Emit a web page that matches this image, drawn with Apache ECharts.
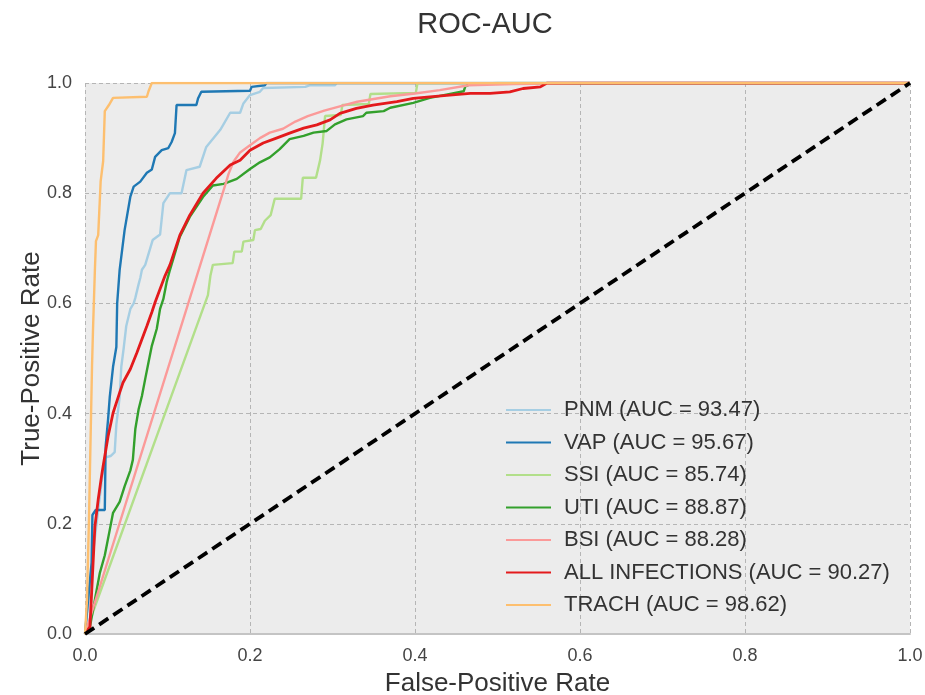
<!DOCTYPE html>
<html>
<head>
<meta charset="utf-8">
<script src="https://cdn.jsdelivr.net/npm/echarts@6/dist/echarts.min.js"></script>
<style>
  html, body { margin: 0; padding: 0; background: #fff; }
  #main { width: 925px; height: 695px; }
</style>
</head>
<body>
<div id="main"></div>
<script>
// ROC points [fpr, tpr]
const pnm = [[0, 0], [0.004, 0.06], [0.01, 0.15], [0.018, 0.25], [0.024, 0.32], [0.031, 0.323], [0.036, 0.33],
  [0.038, 0.38], [0.042, 0.43], [0.044, 0.485], [0.047, 0.52], [0.05, 0.559], [0.055, 0.59], [0.059, 0.6],
  [0.061, 0.61], [0.065, 0.635], [0.067, 0.646], [0.069, 0.661], [0.073, 0.67], [0.082, 0.715], [0.091, 0.725],
  [0.095, 0.782], [0.103, 0.8], [0.117, 0.8], [0.123, 0.842], [0.139, 0.848], [0.147, 0.884], [0.164, 0.915],
  [0.176, 0.946], [0.188, 0.946], [0.192, 0.963], [0.2, 0.978], [0.212, 0.984], [0.216, 0.991], [0.267, 0.993],
  [0.273, 0.996], [0.303, 0.996], [0.305, 1], [1, 1]]
const vap = [[0, 0], [0.003, 0.05], [0.008, 0.129], [0.009, 0.216], [0.013, 0.225], [0.024, 0.225], [0.025, 0.34],
  [0.028, 0.39], [0.03, 0.43], [0.034, 0.485], [0.038, 0.521], [0.039, 0.6], [0.042, 0.661], [0.048, 0.733],
  [0.055, 0.794], [0.059, 0.812], [0.067, 0.821], [0.075, 0.837], [0.081, 0.843], [0.085, 0.866], [0.093, 0.878],
  [0.101, 0.882], [0.105, 0.893], [0.109, 0.909], [0.111, 0.96], [0.135, 0.96], [0.137, 0.972], [0.141, 0.984],
  [0.2, 0.986], [0.202, 0.993], [0.218, 0.996], [0.22, 1], [1, 1]]
const ssi = [[0, 0], [0.149, 0.615], [0.152, 0.65], [0.155, 0.67], [0.179, 0.673], [0.181, 0.694], [0.19, 0.694],
  [0.192, 0.712], [0.204, 0.715], [0.206, 0.733], [0.213, 0.735], [0.218, 0.75], [0.225, 0.76], [0.23, 0.79],
  [0.262, 0.79], [0.264, 0.828], [0.28, 0.828], [0.285, 0.86], [0.288, 0.89], [0.291, 0.94], [0.31, 0.942],
  [0.312, 0.96], [0.344, 0.962], [0.346, 0.98], [0.401, 0.982], [0.403, 1], [1, 1]]
const uti = [[0, 0], [0.006, 0.013], [0.012, 0.062], [0.018, 0.111], [0.024, 0.143], [0.03, 0.189], [0.034, 0.22],
  [0.042, 0.24], [0.048, 0.268], [0.055, 0.297], [0.058, 0.316], [0.061, 0.372], [0.065, 0.408], [0.069, 0.432],
  [0.073, 0.463], [0.077, 0.493], [0.081, 0.523], [0.087, 0.554], [0.091, 0.59], [0.095, 0.608], [0.099, 0.639],
  [0.103, 0.661], [0.115, 0.721], [0.127, 0.757], [0.143, 0.793], [0.155, 0.814], [0.168, 0.817], [0.184, 0.826],
  [0.2, 0.844], [0.212, 0.856], [0.224, 0.865], [0.236, 0.88], [0.248, 0.898], [0.265, 0.904], [0.277, 0.91],
  [0.293, 0.913], [0.303, 0.925], [0.317, 0.934], [0.337, 0.94], [0.341, 0.946], [0.362, 0.949], [0.37, 0.955],
  [0.398, 0.964], [0.418, 0.973], [0.438, 0.979], [0.459, 0.985], [0.461, 0.994], [0.467, 0.998], [0.5, 1], [1, 1]]
const bsi = [[0, 0], [0.17, 0.815], [0.174, 0.835], [0.18, 0.857], [0.188, 0.874], [0.2, 0.887], [0.212, 0.9],
  [0.224, 0.91], [0.24, 0.917], [0.255, 0.93], [0.27, 0.94], [0.29, 0.95], [0.31, 0.958], [0.33, 0.966],
  [0.35, 0.971], [0.37, 0.976], [0.4, 0.981], [0.43, 0.987], [0.465, 0.996], [0.52, 0.998], [0.6, 1], [1, 1]]
const allInf = [[0, 0], [0.006, 0.013], [0.01, 0.135], [0.012, 0.195], [0.016, 0.244], [0.02, 0.286], [0.022, 0.305],
  [0.028, 0.359], [0.034, 0.401], [0.042, 0.438], [0.046, 0.456], [0.055, 0.481], [0.063, 0.511], [0.069, 0.535],
  [0.075, 0.559], [0.081, 0.584], [0.085, 0.602], [0.091, 0.626], [0.097, 0.65], [0.103, 0.67], [0.115, 0.724],
  [0.127, 0.76], [0.143, 0.8], [0.159, 0.827], [0.176, 0.851], [0.188, 0.86], [0.2, 0.878], [0.216, 0.891],
  [0.232, 0.9], [0.248, 0.909], [0.265, 0.918], [0.281, 0.924], [0.297, 0.933], [0.309, 0.945], [0.329, 0.954],
  [0.349, 0.96], [0.378, 0.966], [0.398, 0.972], [0.418, 0.975], [0.442, 0.978], [0.467, 0.981], [0.491, 0.981],
  [0.515, 0.984], [0.531, 0.99], [0.552, 0.993], [0.56, 1], [1, 1]]
const trach = [[0, 0], [0.0024, 0.062], [0.0048, 0.207], [0.006, 0.298], [0.0085, 0.485], [0.0097, 0.552],
  [0.012, 0.661], [0.0133, 0.713], [0.016, 0.724], [0.019, 0.822], [0.022, 0.858], [0.024, 0.949], [0.029, 0.96],
  [0.034, 0.973], [0.075, 0.975], [0.077, 0.985], [0.081, 1], [1, 1]]
const chance = [[0, 0], [1, 1]]

const names = ['PNM (AUC = 93.47)', 'VAP (AUC = 95.67)', 'SSI (AUC = 85.74)', 'UTI (AUC = 88.87)',
  'BSI (AUC = 88.28)', 'ALL INFECTIONS (AUC = 90.27)', 'TRACH (AUC = 98.62)']
const curves = [pnm, vap, ssi, uti, bsi, allInf, trach]
const colors = ['#a6cee3', '#1f78b4', '#b2df8a', '#33a02c', '#fb9a99', '#e31a1c', '#fdbf6f']

const myChart = echarts.init(document.getElementById('main'))
const font = 'Liberation Sans, Arial, sans-serif'

const series = curves.map((data, i) => ({
  name: names[i],
  type: 'line',
  symbol: 'none',
  data: data,
  color: colors[i],
  lineStyle: { width: i === 5 ? 2.8 : 2.4, color: colors[i] },
  z: 2 + i
}))
series.push({
  name: 'chance',
  type: 'line',
  symbol: 'none',
  data: chance,
  lineStyle: { width: 3.8, color: '#000', type: [11, 6] },
  z: 20
})

const option = {
  animation: false,
  title: {
    text: 'ROC-AUC',
    left: 480,
    textAlign: 'center',
    top: 5,
    textStyle: { fontFamily: font, fontSize: 29, fontWeight: 'normal', color: '#333' }
  },
  grid: {
    left: 85,
    right: 15,
    top: 83,
    bottom: 61,
    outerBoundsMode: 'none',
    containLabel: false,
    show: true,
    backgroundColor: '#ececec',
    borderWidth: 0
  },
  legend: {
    data: names,
    orient: 'vertical',
    left: 500,
    top: 394,
    itemWidth: 45,
    itemHeight: 14,
    itemGap: 10.5,
    itemStyle: { opacity: 0 },
    textStyle: { fontFamily: font, fontSize: 22, color: '#333', padding: [0, 0, 0, 8] }
  },
  xAxis: {
    type: 'value',
    min: 0,
    max: 1,
    interval: 0.2,
    name: 'False-Positive Rate',
    nameLocation: 'middle',
    nameGap: 37,
    nameTextStyle: { fontFamily: font, fontSize: 26, color: '#333' },
    axisLine: { show: true, lineStyle: { color: '#c4c4c4', width: 2 } },
    axisTick: { show: false },
    axisLabel: {
      fontFamily: font, fontSize: 18, color: '#444', margin: 13,
      formatter: v => v.toFixed(1)
    },
    splitLine: { show: true, lineStyle: { color: '#b5b5b5', type: [4, 3], width: 1 } }
  },
  yAxis: {
    type: 'value',
    min: 0,
    max: 1,
    interval: 0.2,
    name: 'True-Positive Rate',
    nameLocation: 'middle',
    nameGap: 40,
    nameMoveOverlap: false,
    nameTextStyle: { fontFamily: font, fontSize: 26, color: '#333' },
    axisLine: { show: false },
    axisTick: { show: false },
    axisLabel: {
      fontFamily: font, fontSize: 18, color: '#444', margin: 13,
      formatter: v => v.toFixed(1)
    },
    splitLine: { show: true, lineStyle: { color: '#b5b5b5', type: [4, 3], width: 1 } }
  },
  series: series
}
myChart.setOption(option)
</script>
</body>
</html>
